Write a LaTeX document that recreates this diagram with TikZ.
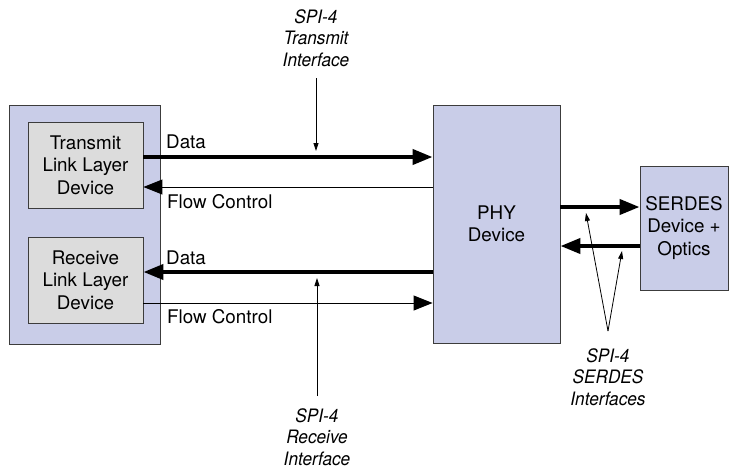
\documentclass[tikz,border=0pt]{standalone}
\usepackage{fontspec}
\setmainfont{TeX Gyre Heros}
\newfontfamily\narrowfont[FakeStretch=0.93]{TeX Gyre Heros}
\usetikzlibrary{arrows.meta}
\definecolor{lavender}{HTML}{C9CDE8}
\definecolor{boxgray}{HTML}{DCDCDC}
\definecolor{edge}{HTML}{3C3C3C}
\tikzset{
  x=1pt, y=-1pt,
  every node/.style={font=\fontsize{18.8}{22.5}\selectfont},
  panel/.style={draw=edge, line width=0.9pt, fill=lavender, inner sep=0pt},
  device/.style={draw=edge, line width=0.9pt, fill=boxgray, inner sep=0pt,
    minimum width=115pt, minimum height=86pt, align=center},
  bus/.style={line width=4pt, -{Triangle[length=20pt,width=15pt]}},
  ctrl/.style={line width=1pt, -{Triangle[length=19pt,width=15pt]}},
  pointer/.style={line width=0.8pt, -{Triangle[length=8pt,width=5pt]}},
  sig/.style={anchor=base west, inner sep=0pt},
  note/.style={align=center, inner sep=0pt,
    font=\narrowfont\itshape\fontsize{18.5}{21.5}\selectfont},
}
\begin{document}
\begin{tikzpicture}
\useasboundingbox (0,0) rectangle (729,469);

% system-side blocks
\node[panel, minimum width=151pt, minimum height=239pt] (host) at (84.5,224.5) {};
\node[device] (tx) at (85.5,165) {Transmit\\Link Layer\\Device};
\node[device] (rx) at (85.5,280) {Receive\\Link Layer\\Device};

% PHY and SERDES
\node[panel, minimum width=127pt, minimum height=238pt, align=center] (phy) at (496.5,224) {PHY\\Device};
\node[panel, minimum width=88pt, minimum height=124pt, align=center] (serdes) at (684,228) {SERDES\\Device +\\Optics};

% SPI-4 links between the link layer devices and the PHY
\coordinate (txd) at ([yshift=8pt]tx.east);
\coordinate (txf) at ([yshift=-22pt]tx.east);
\coordinate (rxd) at ([yshift=8pt]rx.east);
\coordinate (rxf) at ([yshift=-23pt]rx.east);
\draw[bus]  (txd) -- (txd -| phy.west);
\draw[ctrl] (txf -| phy.west) -- (txf);
\draw[bus]  (rxd -| phy.west) -- (rxd);
\draw[ctrl] (rxf) -- (rxf -| phy.west);

\node[sig] (lbl1) at (166,148) {Data};
\node[sig] (lbl2) at (167,208) {Flow Control};
\node[sig] (lbl3) at (166,264) {Data};
\node[sig] (lbl4) at (167,323) {Flow Control};

% SERDES links
\coordinate (sout) at ([yshift=21pt]serdes.west);
\coordinate (sin) at ([yshift=-18pt]serdes.west);
\draw[bus] (sout -| phy.east) -- (sout);
\draw[bus] (sin) -- (sin -| phy.east);

% interface callouts
\node[note] (ntx) at (316,38) {SPI-4\\Transmit\\Interface};
\coordinate (ptx) at (316,151);
\draw[pointer] (316,78) -- (ptx);

\node[note] (nrx) at (317,437) {SPI-4\\Receive\\Interface};
\coordinate (prx) at (317,278);
\draw[pointer] (317,396) -- (prx);

\node[note] (nsd) at (608,377) {SPI-4\\SERDES\\Interfaces};
\coordinate (fork) at (608,331);
\coordinate (psd1) at (586,213);
\coordinate (psd2) at (622,251);
\draw[pointer] (fork) -- (psd1);
\draw[pointer] (fork) -- (psd2);
\end{tikzpicture}
\end{document}
